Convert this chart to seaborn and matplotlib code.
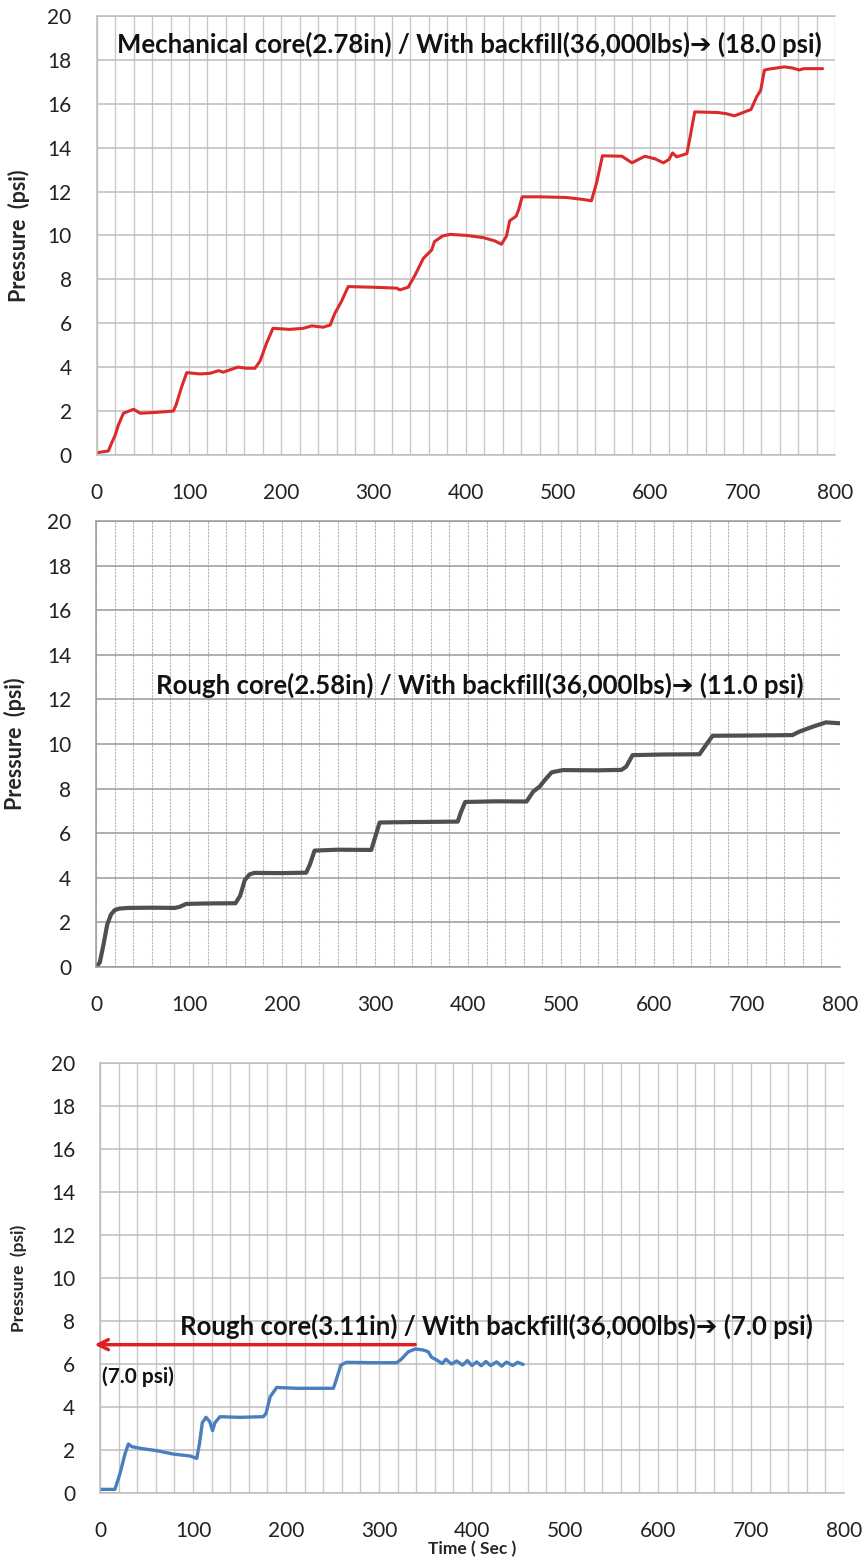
import matplotlib
matplotlib.use('Agg')
import matplotlib.pyplot as plt
import seaborn as sns
from matplotlib.ticker import MultipleLocator

# ---- panel 1: mechanical core 2.78in ----
mech_time = [0, 12.6, 16, 20, 23.5, 29, 40, 47, 65, 83,
             86, 92, 97.5, 112, 123, 132, 137, 153, 162, 171.5,
             177, 184, 191, 209, 224, 233, 245.5, 253, 258, 265,
             272.5, 300, 325, 328.5, 337.5, 345, 354, 363, 366, 375,
             383, 401, 419, 431.5, 438.5, 444, 447.5, 454.5, 457, 461,
             480, 509, 527, 536, 541.5, 548, 569, 580, 594, 605,
             614, 620, 624, 628.5, 639.5, 643, 648, 673, 682, 691,
             709, 715, 719.5, 723.5, 727, 745, 754, 761, 766.5, 786.5]
mech_psi = [0.1, 0.18, 0.53, 0.9, 1.37, 1.9, 2.08, 1.9, 1.94, 2.0,
            2.28, 3.1, 3.75, 3.69, 3.72, 3.84, 3.77, 4.0, 3.95, 3.95,
            4.28, 5.09, 5.77, 5.72, 5.77, 5.88, 5.82, 5.92, 6.45, 6.98,
            7.67, 7.64, 7.6, 7.52, 7.64, 8.2, 8.96, 9.34, 9.72, 9.98,
            10.05, 10.0, 9.9, 9.75, 9.6, 9.97, 10.67, 10.88, 11.15, 11.76,
            11.76, 11.73, 11.64, 11.58, 12.37, 13.63, 13.61, 13.31, 13.61, 13.49,
            13.31, 13.46, 13.76, 13.58, 13.73, 14.49, 15.63, 15.6, 15.55, 15.45,
            15.74, 16.31, 16.62, 17.53, 17.57, 17.68, 17.63, 17.54, 17.6, 17.6]

# ---- panel 2: rough core 2.58in ----
rough258_time = [0, 4, 8, 12, 16, 20, 25, 35, 60, 85,
                 90, 97, 120, 150, 155, 160, 165, 170, 200, 226,
                 230, 235, 260, 296, 300, 305, 340, 389, 392, 397,
                 430, 463, 470, 477, 484, 490, 502, 540, 565, 570,
                 577, 610, 649, 656, 663, 700, 749, 756, 771, 785,
                 800]
rough258_psi = [0.0, 0.2, 1.0, 1.9, 2.35, 2.55, 2.62, 2.65, 2.66, 2.65,
                2.7, 2.83, 2.85, 2.86, 3.2, 3.9, 4.15, 4.22, 4.21, 4.23,
                4.6, 5.22, 5.26, 5.25, 5.8, 6.48, 6.5, 6.52, 6.9, 7.4,
                7.43, 7.42, 7.86, 8.09, 8.45, 8.73, 8.83, 8.82, 8.84, 8.98,
                9.5, 9.53, 9.54, 9.96, 10.37, 10.38, 10.4, 10.55, 10.78, 10.97,
                10.93]

# ---- panel 3: rough core 3.11in ----
rough311_time = [0, 16, 21.5, 27, 30.5, 34, 43, 61, 79, 97,
                 104, 107, 110, 114, 118, 121, 123.6, 129, 150.5, 175.6,
                 178.5, 183, 190, 211.5, 251, 254, 259, 265, 294, 319,
                 324, 331.5, 339, 347.7, 353, 356.6, 362, 368, 372, 378,
                 383.5, 390, 395, 400, 405, 410, 415, 420, 426.5, 432,
                 437, 444, 449, 455]
rough311_psi = [0.17, 0.17, 0.91, 1.84, 2.28, 2.16, 2.08, 1.97, 1.81, 1.72,
                1.61, 2.31, 3.27, 3.52, 3.32, 2.9, 3.27, 3.55, 3.52, 3.55,
                3.7, 4.48, 4.91, 4.87, 4.87, 5.26, 5.95, 6.08, 6.06, 6.06,
                6.22, 6.57, 6.7, 6.65, 6.57, 6.31, 6.19, 6.02, 6.22, 6.0,
                6.14, 5.95, 6.16, 5.93, 6.1, 5.92, 6.12, 5.93, 6.1, 5.9,
                6.09, 5.93, 6.08, 5.98]

titles = ['Mechanical core(2.78in) / With backfill(36,000lbs)\u2794 (18.0 psi)',
          'Rough core(2.58in) / With backfill(36,000lbs)\u2794 (11.0 psi)',
          'Rough core(3.11in) / With backfill(36,000lbs)\u2794 (7.0 psi)']
title_pos = [(22, 18.7), (65, 12.65), (86, 7.75)]
x_ticks = list(range(0, 801, 100))
y_ticks = list(range(0, 21, 2))

sns.set_theme(style='white')
FONT = ['Lato', 'DejaVu Sans']
plt.rcParams['font.family'] = FONT

fig = plt.figure(figsize=(8.66, 15.66), dpi=100)

# [left, bottom, width, height] in figure fraction
ax1 = fig.add_axes([0.1117, 0.7095, 0.8525, 0.2803])
ax2 = fig.add_axes([0.1109, 0.3825, 0.8590, 0.2848])
ax3 = fig.add_axes([0.1155, 0.0466, 0.8590, 0.2746])


def style_axis(ax, hcolor, vcolor, vstyle, vwidth):
    ax.set_xlim(0, 800)
    ax.set_ylim(0, 20)
    ax.set_xticks(x_ticks)
    ax.set_yticks(y_ticks)
    ax.xaxis.set_minor_locator(MultipleLocator(20))
    ax.grid(False)
    ax.grid(which='both', axis='x', color=vcolor, linestyle=vstyle, linewidth=vwidth)
    ax.grid(which='major', axis='y', color=hcolor, linewidth=1.1)
    ax.set_axisbelow(True)
    ax.tick_params(which='both', length=0, labelsize=15, colors='#222222')
    ax.tick_params(axis='y', pad=18)
    ax.tick_params(axis='x', pad=20)
    for side, sp in ax.spines.items():
        sp.set_color(hcolor)
        sp.set_linewidth(1.1)
    ax.spines['right'].set_visible(False)
    ax.set_facecolor('white')


style_axis(ax1, '#bdbdbd', '#c8c8c8', '-', 1.0)
style_axis(ax2, '#9a9a9a', '#b4b4b4', (0, (2, 1)), 0.8)
style_axis(ax3, '#bdbdbd', '#c8c8c8', '-', 1.0)

sns.lineplot(x=mech_time, y=mech_psi, ax=ax1, color='#dc2a2a', linewidth=2.2,
             sort=False, estimator=None)
sns.lineplot(x=rough258_time, y=rough258_psi, ax=ax2, color='#4f4f4f', linewidth=3.0,
             sort=False, estimator=None)
sns.lineplot(x=rough311_time, y=rough311_psi, ax=ax3, color='#4a7fbf', linewidth=2.4,
             sort=False, estimator=None)

for ax, title, (tx, ty) in zip([ax1, ax2, ax3], titles, title_pos):
    ax.text(tx, ty, title, ha='left', va='center', fontsize=18.5, fontweight='bold',
            color='#111111', family=FONT)

# 7.0 psi marker arrow on the bottom panel
ax3.annotate('', xy=(-9, 6.9), xytext=(342, 6.9), annotation_clip=False,
             arrowprops=dict(arrowstyle='->', color='#e02020', lw=2.5,
                             mutation_scale=18))
ax3.text(2, 5.4, '(7.0 psi)', ha='left', va='center', fontsize=15,
         fontweight='bold', color='#111111')

ax1.set_ylabel('Pressure  (psi)', fontsize=15.5, fontweight='bold')
ax1.yaxis.set_label_coords(-0.09, 0.5)
ax2.set_ylabel('Pressure  (psi)', fontsize=15.5, fontweight='bold')
ax2.yaxis.set_label_coords(-0.094, 0.5)
ax3.set_ylabel('Pressure  (psi)', fontsize=12.5, fontweight='bold')
ax3.yaxis.set_label_coords(-0.098, 0.5)
ax1.set_xlabel('')
ax2.set_xlabel('')
ax3.set_xlabel('Time ( Sec )', fontsize=12.5, fontweight='bold')
ax3.xaxis.set_label_coords(0.5, -0.112)

fig.savefig('out.png', dpi=100, facecolor='white')
